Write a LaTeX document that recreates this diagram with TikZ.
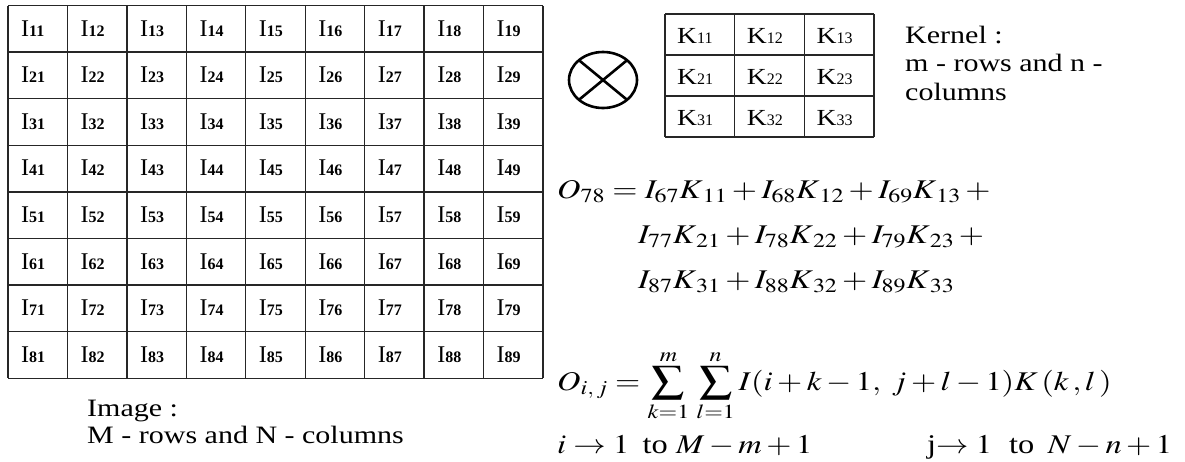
\documentclass[tikz,border=0pt]{standalone}
\usepackage{graphicx}
\usepackage{mathptmx}
\usepackage{fontspec}
\setmainfont{Liberation Serif}
\newcommand\wide[1]{\scalebox{1.2}[1]{#1}}
\newcommand\eqwide[1]{\scalebox{1.2}[1]{#1}}
\begin{document}
\begin{tikzpicture}[x=1pt,y=-1pt,
  gridline/.style={line width=1.3pt, black!85},
  cell/.style={anchor=base west, inner sep=0pt, font=\fontsize{24}{28}\selectfont},
  kcell/.style={anchor=base west, inner sep=0pt, font=\fontsize{23}{28}\selectfont},
  txt/.style={anchor=base west, inner sep=0pt, font=\fontsize{25}{30}\selectfont},
  eq/.style={anchor=base west, inner sep=0pt, font=\fontsize{27}{32}\selectfont}]
\useasboundingbox (0,0) rectangle (1185,461);
% image grid
\foreach \c in {0,...,9} \draw[gridline] ({8+59.44*\c},5.5) -- ({8+59.44*\c},378.3);
\foreach \r in {0,...,8} \draw[gridline] (8,{5.5+46.6*\r}) -- (543.4,{5.5+46.6*\r});
\foreach \r in {1,...,8} \foreach \c in {1,...,9}
  \node[cell] (I-\r-\c) at ({8+59.44*(\c-1)+13},{5.5+46.6*(\r-1)+30.5})
    {I{\fontsize{16}{16}\selectfont\bfseries\r\c}};
% otimes
\coordinate (ot) at (603,80);
\draw[line width=2.6pt] (ot) ellipse [x radius=34, y radius=28];
\draw[line width=2.6pt] (ot) ++(135:34 and 28) -- ++(-45:68 and 56);
\draw[line width=2.6pt] (ot) ++(45:34 and 28) -- ++(-135:68 and 56);
% kernel grid
\foreach \c in {0,...,3} \draw[gridline] ({665+69.7*\c},14) -- ({665+69.7*\c},137);
\foreach \r in {0,...,3} \draw[gridline] (665,{14+41*\r}) -- (874.1,{14+41*\r});
\foreach \r in {1,...,3} \foreach \c in {1,...,3}
  \node[kcell] (K-\r-\c) at ({665+69.7*(\c-1)+12},{14+41*(\r-1)+29.3})
    {\wide{K}{\fontsize{16}{16}\selectfont\r\c}};
% labels
\node[txt] (kl1) at (905,43) {\wide{Kernel :}};
\node[txt] (kl2) at (905,71) {\wide{m - rows and n -}};
\node[txt] (kl3) at (905,100) {\wide{columns}};
\node[txt] (il1) at (87,416) {\wide{Image :}};
\node[txt] (il2) at (87,443) {\wide{M - rows and N - columns}};
% equations
\node[eq] (e1) at (557,198) {\eqwide{$O_{78} = I_{67}K_{\,11} + I_{68}K_{\,12} + I_{69}K_{\,13} +{}$}};
\node[eq] (e2) at (638,243) {\eqwide{$I_{77}K_{\,21} + I_{78}K_{\,22} + I_{79}K_{\,23} +{}$}};
\node[eq] (e3) at (638,288) {\eqwide{$I_{87}K_{\,31} + I_{88}K_{\,32} + I_{89}K_{\,33}$}};
\node[eq] (e4) at (557,390) {\eqwide{$\displaystyle O_{i,\,j} = \sum_{k=1}^{m}\,\sum_{l=1}^{n} I(i+k-1,\; j+l-1)K\,(k\,,l\,)$}};
\node[eq] (e5) at (557,453) {\eqwide{$i \rightarrow 1$\, to $M-m+1$}};
\node[eq] (e6) at (927,453) {\eqwide{j$\rightarrow 1$\; to \,$N-n+1$}};
\end{tikzpicture}
\end{document}
